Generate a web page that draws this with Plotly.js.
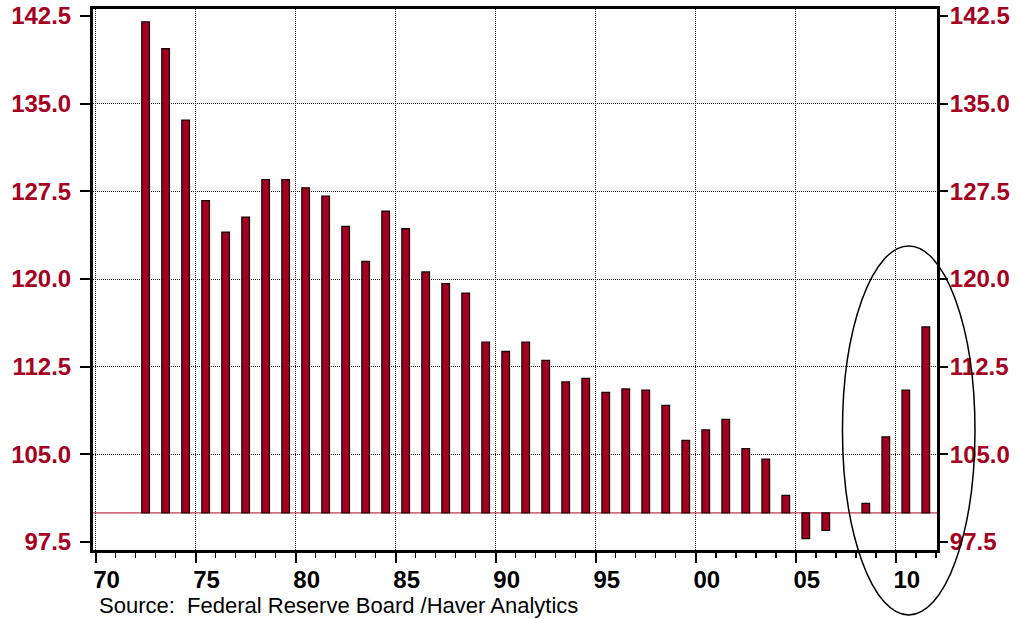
<!DOCTYPE html>
<html>
<head>
<meta charset="utf-8">
<script src="https://cdn.plot.ly/plotly-3.0.1.min.js"></script>
<style>html,body{margin:0;padding:0;background:#fff;}#chart{width:1022px;height:619px;}</style>
</head>
<body>
<div id="chart"></div>
<script>
// ---- data ----
var years = [1972,1973,1974,1975,1976,1977,1978,1979,1980,1981,
             1982,1983,1984,1985,1986,1987,1988,1989,1990,1991,
             1992,1993,1994,1995,1996,1997,1998,1999,2000,2001,
             2002,2003,2004,2005,2006,2007,2008,2009,2010,2011];
var values = [142.0,139.7,133.6,126.7,124.0,125.3,128.5,128.5,127.8,127.1,
              124.5,121.5,125.8,124.3,120.6,119.6,118.8,114.6,113.8,114.6,
              113.05,111.2,111.5,110.3,110.6,110.5,109.2,106.2,107.1,108.0,
              105.5,104.6,101.5,97.8,98.5,null,100.8,106.5,110.5,115.9];
var BASE = 100;
var xTickVals = [1970,1975,1980,1985,1990,1995,2000,2005,2010];
var xTickText = ['70','75','80','85','90','95','00','05','10'];
var yTickVals = [97.5,105.0,112.5,120.0,127.5,135.0,142.5];
var yGridVals = [105.0,112.5,120.0,127.5,135.0];
var sourceText = 'Source:  Federal Reserve Board /Haver Analytics';

var RED = '#A50021';
var yRange = [96.82, 143.1];
var labelFont = {family:'Liberation Sans, Arial, sans-serif', size:24, color:RED, weight:'bold'};
var GRID = '#222222';
var GRIDDASH = '1px,1px';

var traces = [
  {
    type:'bar',
    x: years,
    y: values.map(function(v){ return v === null ? null : v - BASE; }),
    base: BASE,
    width: 0.38,
    offset: 0.31,
    marker:{color:RED, line:{color:'#1a0505', width:1.3}},
    hoverinfo:'x+text',
    text: values.map(function(v){ return v === null ? '' : String(v); }),
    textposition:'none',
    showlegend:false
  },
  {type:'scatter', x:[], y:[], yaxis:'y2', showlegend:false, hoverinfo:'skip'},
  {type:'scatter', x:[], y:[], yaxis:'y3', showlegend:false, hoverinfo:'skip'}
];

var layout = {
  width:1022, height:619,
  margin:{l:93, r:85, t:9, b:69, pad:0},
  paper_bgcolor:'#ffffff', plot_bgcolor:'#ffffff',
  showlegend:false,
  bargap:0,
  xaxis:{
    range:[1969.87, 2012.06],
    tickmode:'array', tickvals:xTickVals, ticktext:xTickText,
    ticks:'outside', ticklen:10, tickwidth:2, tickcolor:'#000',
    ticklabelshift:11, ticklabelstandoff:-4,
    tickfont:{family:'Liberation Sans, Arial, sans-serif', size:24, color:'#000', weight:'bold'},
    showgrid:true, gridcolor:GRID, griddash:GRIDDASH, gridwidth:1,
    showline:true, linewidth:3, linecolor:'#000', mirror:true,
    zeroline:false, automargin:false,
    minor:{tickmode:'linear', tick0:1970, dtick:1, ticks:'outside', ticklen:5, tickwidth:1.5, tickcolor:'#000', showgrid:false}
  },
  yaxis:{
    range:yRange,
    tickmode:'array', tickvals:yTickVals, tickformat:'.1f',
    ticks:'outside', ticklen:10, tickwidth:2, tickcolor:'#000',
    ticklabelstandoff:4,
    tickfont:labelFont,
    showgrid:false,
    showline:true, linewidth:3, linecolor:'#000', mirror:true,
    zeroline:false, automargin:false
  },
  yaxis2:{
    overlaying:'y', side:'right',
    range:yRange,
    tickmode:'array', tickvals:yTickVals, tickformat:'.1f',
    ticks:'outside', ticklen:10, tickwidth:2, tickcolor:'#000',
    ticklabelstandoff:-3,
    tickfont:labelFont,
    showgrid:false, showline:false, zeroline:false, automargin:false
  },
  yaxis3:{
    overlaying:'y', side:'left',
    range:yRange,
    tickmode:'array', tickvals:yGridVals,
    ticks:'', showticklabels:false,
    showgrid:true, gridcolor:GRID, griddash:GRIDDASH, gridwidth:1,
    showline:false, zeroline:false, automargin:false
  },
  shapes:[
    {type:'line', xref:'paper', x0:0, x1:1, yref:'y', y0:BASE, y1:BASE,
     line:{color:'#C8374F', width:1.2}, layer:'below'},
    {type:'circle', xref:'paper', yref:'paper', x0:0.888, x1:1.045, y0:-0.120, y1:0.562,
     line:{color:'#000', width:1.5}, layer:'above'}
  ],
  annotations:[
    {text:sourceText, xref:'paper', yref:'paper', x:0.0047, y:-0.1035,
     xanchor:'left', yanchor:'middle', showarrow:false,
     font:{family:'Liberation Sans, Arial, sans-serif', size:22, color:'#000'}}
  ]
};

Plotly.newPlot('chart', traces, layout, {displayModeBar:false, staticPlot:true});
</script>
</body>
</html>
